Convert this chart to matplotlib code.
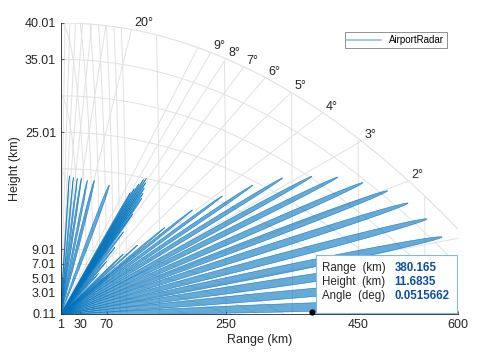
import numpy as np
import matplotlib.pyplot as plt
from matplotlib.lines import Line2D
from matplotlib.patches import Rectangle

plt.rcParams['font.family'] = ['Liberation Sans', 'DejaVu Sans']

# lobes of the vertical coverage pattern: elevation (deg), max range (km), half width (deg)
low_ang = [0.16, 0.46, 0.76, 1.06, 1.36, 1.67, 1.97, 2.27, 2.58, 2.86, 3.20, 3.50, 3.81, 4.12, 4.34, 4.69]
low_rng = [620, 605, 592, 576, 553, 525, 494, 457, 419, 380, 336, 291, 245, 200, 158, 117]
low_hw = [0.15] * len(low_ang)

knee_ang = [4.2, 5.0]
knee_rng = [75, 95]
knee_hw = [1.0, 0.2]

mid_ang = [5.6, 6.0, 6.4, 6.8, 7.2, 7.4, 7.6, 7.8, 8.0, 8.2, 8.4, 8.6, 8.8, 9.0]
mid_rng = [58, 70, 83, 96, 110, 124, 126, 128, 130, 131, 127, 120, 113, 107]
mid_hw = [0.25] * 5 + [0.3] * 9

high_ang = [13.5, 19.7, 24.3, 30.5, 36.1, 43.8, 54.5]
high_rng = [76, 54.5, 44.7, 36.8, 31.7, 27.2, 23.4]
high_hw = [1.3, 2.0, 2.2, 2.6, 2.8, 3.0, 3.0]

# chart grid
earth_r = 6371.0
h_top = 40.01
r_max = 600.0
xticks = [1, 30, 70, 250, 450, 600]
yticks = [0.11, 3.01, 5.01, 7.01, 9.01, 25.01, 35.01, 40.01]
height_grid = [3.01, 5.01, 7.01, 9.01, 20.01, 25.01, 30.01, 35.01]
range_grid = [10, 20, 30, 40, 50, 60, 70, 80, 90, 100, 150, 250, 350, 450, 550]
angle_grid = [0, 1, 2, 3, 4, 5, 6, 7, 8, 9, 10, 20, 30, 40, 50, 60, 70, 80]
angle_labels = [2, 3, 4, 5, 6, 7, 8, 9, 20]

# data tip
tip_range = 380.165
tip_angle = 0.0515662
tip_texts = [('Range  (km)', '380.165'), ('Height  (km)', '11.6835'), ('Angle  (deg)', '0.0515662')]

blue = '#0072BD'
grid_c = '#e1e1e1'
txt_c = '#262626'


def top_curve(x, h=h_top):
    return h - x ** 2 / (2 * earth_r)


def angle_end(th_deg):
    t = np.tan(np.radians(th_deg))
    x = (-t + np.sqrt(t ** 2 + 2 * h_top / earth_r)) * earth_r
    return min(x, r_max)


fig = plt.figure(figsize=(5, 3.52), dpi=100)
ax = fig.add_axes([0.122, 0.108, 0.794, 0.827])

# height curves
xs = np.linspace(0, r_max, 400)
for h in height_grid:
    ys = top_curve(xs, h)
    m = ys >= 0
    ax.plot(xs[m], ys[m], color=grid_c, lw=0.7, zorder=1)

# range arcs
for r in range_grid:
    th = np.linspace(0, np.pi / 2, 800)
    x = r * np.cos(th)
    y = r * np.sin(th)
    m = y <= top_curve(x)
    ax.plot(x[m], y[m], color=grid_c, lw=0.7, zorder=1)

# angle lines
for a in angle_grid:
    xe = angle_end(a)
    ax.plot([0, xe], [0, xe * np.tan(np.radians(a))], color=grid_c, lw=0.7, zorder=1)
    if a in angle_labels:
        ax.annotate('%d°' % a, (xe, xe * np.tan(np.radians(a))), xytext=(2, 0),
                    textcoords='offset points', ha='left', va='bottom',
                    fontsize=9, color=txt_c, annotation_clip=False)

# outer boundary
ax.plot(xs, top_curve(xs), color=grid_c, lw=0.8, zorder=1)
ax.plot([r_max, r_max], [0, top_curve(r_max)], color=grid_c, lw=0.8, zorder=1)


def draw_lobe(ang, rng, hw, alpha=0.6, edge=True):
    d = np.linspace(-hw, hw, 200)
    r = rng * np.cos(np.pi / 2 * d / hw)
    th = np.radians(ang + d)
    x = np.concatenate([[0], r * np.cos(th), [0]])
    y = np.concatenate([[0], r * np.sin(th), [0]])
    ax.fill(x, y, facecolor=blue, alpha=alpha, edgecolor='none', zorder=2)
    if edge:
        ax.plot(x, y, color=blue, lw=0.4, alpha=0.85, zorder=2)


for a, r, w in zip(low_ang, low_rng, low_hw):
    draw_lobe(a, r, w)
for i, (a, r, w) in enumerate(zip(knee_ang, knee_rng, knee_hw)):
    draw_lobe(a, r, w, alpha=0.35 if i == 0 else 0.6, edge=(i != 0))
for a, r, w in zip(mid_ang, mid_rng, mid_hw):
    draw_lobe(a, r, w)
for a, r, w in zip(high_ang, high_rng, high_hw):
    draw_lobe(a, r, w)

ax.set_xlim(1, 600)
ax.set_ylim(0.11, 40.01)
ax.set_xticks(xticks)
ax.set_xticklabels([str(v) for v in xticks])
ax.set_yticks(yticks)
ax.set_yticklabels(['%.2f' % v for v in yticks])
ax.tick_params(labelsize=9, colors=txt_c, length=2.5, direction='in', width=0.5)
for s in ['top', 'right']:
    ax.spines[s].set_visible(False)
for s in ['left', 'bottom']:
    ax.spines[s].set_color(txt_c)
    ax.spines[s].set_linewidth(0.6)
ax.set_xlabel('Range (km)', fontsize=9, color=txt_c, labelpad=2)
ax.set_ylabel('Height (km)', fontsize=9, color=txt_c, labelpad=3)

handle = Line2D([], [], color=blue, alpha=0.45, lw=1.2)
leg = ax.legend([handle], ['AirportRadar'], loc='upper right', fontsize=7,
                fancybox=False, framealpha=1, edgecolor='#808080',
                handlelength=3.5, borderpad=0.3, bbox_to_anchor=(0.985, 0.985))
leg.get_frame().set_linewidth(0.6)

# data tip
ax.plot(tip_range, tip_range * np.sin(np.radians(tip_angle)), 'o', color='black',
        ms=3.5, zorder=6, clip_on=False)
ax.add_patch(Rectangle((0.642, 0.003), 0.355, 0.2, transform=ax.transAxes,
                       facecolor='white', edgecolor='#7fb8ea', lw=0.8, zorder=5))
for i, (lab, val) in enumerate(tip_texts):
    yy = 0.158 - i * 0.048
    ax.text(0.657, yy, lab, transform=ax.transAxes, fontsize=8.3, color=txt_c,
            va='center', zorder=6)
    ax.text(0.84, yy, val, transform=ax.transAxes, fontsize=8.3, color='#0b4ea2',
            fontweight='bold', va='center', zorder=6)

fig.savefig('out.png', dpi=100)
